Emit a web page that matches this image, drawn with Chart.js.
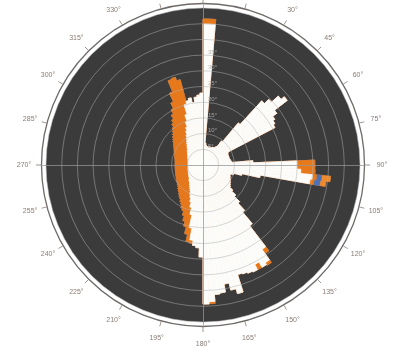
<!DOCTYPE html>
<html><head><meta charset="utf-8">
<script src="https://cdn.jsdelivr.net/npm/chart.js@4.4.0/dist/chart.umd.min.js"></script>
<style>html,body{margin:0;padding:0;background:#fff;}#wrap{width:397px;height:347px;position:relative;}</style>
</head><body><div id="wrap"><canvas id="c"></canvas></div>
<script>
// 2.5-degree direction bins (bin start, degrees clockwise from north)
const binStarts = [0,2.5,5,7.5,10,12.5,15,17.5,20,22.5,25,27.5,30,32.5,35,37.5,40,42.5,45,47.5,50,52.5,55,57.5,60,62.5,65,67.5,70,72.5,75,77.5,80,82.5,85,87.5,90,92.5,95,97.5,100,102.5,105,107.5,110,112.5,115,117.5,120,122.5,125,127.5,130,132.5,135,137.5,140,142.5,145,147.5,150,152.5,155,157.5,160,162.5,165,167.5,170,172.5,175,177.5,180,182.5,185,187.5,190,192.5,195,197.5,200,202.5,205,207.5,210,212.5,215,217.5,220,222.5,225,227.5,230,232.5,235,237.5,240,242.5,245,247.5,250,252.5,255,257.5,260,262.5,265,267.5,270,272.5,275,277.5,280,282.5,285,287.5,290,292.5,295,297.5,300,302.5,305,307.5,310,312.5,315,317.5,320,322.5,325,327.5,330,332.5,335,337.5,340,342.5,345,347.5,350,352.5,355,357.5];

const whiteSeries = [
44.9,44.9,7.0,6.4,6.1,5.9,5.9,6.1,6.1,6.1,
6.2,6.4,6.4,6.7,7.3,9.6,17.5,27.7,29.6,32.5,
33.8,28.7,27.1,26.4,25.8,8.9,8.6,8.6,8.6,8.6,
8.6,8.8,8.9,9.2,15.9,29.9,29.9,31.2,35.0,34.4,
18.5,12.7,10.2,9.2,9.2,9.4,9.6,9.9,10.1,10.4,
10.7,11.1,12.4,14.2,16.5,19.6,24.4,32.8,36.9,37.6,
35.7,37.6,37.3,36.9,36.6,42.4,40.8,38.5,41.1,41.4,
43.6,44.3,29.3,26.4,25.8,24.2,20.4,16.2,14.0,12.4,
11.1,10.2,9.2,8.6,8.1,7.6,7.2,6.8,6.7,6.4,
6.1,5.9,5.8,5.6,5.5,5.4,5.3,5.2,5.1,5.1,
5.0,5.0,4.9,4.9,4.8,4.8,4.8,4.8,4.8,4.8,
4.8,4.8,4.9,4.9,5.0,5.0,5.1,5.3,5.4,5.5,
5.7,5.9,6.1,6.3,6.6,6.9,7.2,7.6,8.1,8.7,
9.3,10.1,10.9,12.0,13.1,14.8,16.9,20.1,21.0,21.7,
20.1,21.7,22.3,22.9];

const orangeSeries = [
1.6,1.6,0,0,0,0,0,0,0,0,
0,0,0,0,0,0,0,0,0,0,
0,0,0,0,0,0,0,0,0,0,
0,0,0,0,0,5.7,5.7,4.5,1.3,1.3,
0,0,0,0,0,0,0,0,0,0,
0,0,0,0,0,0,0,1.6,1.0,0,
1.9,0,0,0,0,0,0,0,0,0,
0.6,0,0,0,0,1.0,4.5,6.4,6.4,6.4,
6.1,5.7,6.1,5.7,5.6,5.4,5.4,5.3,4.9,4.9,
4.9,4.6,4.5,4.4,4.4,4.3,4.3,4.2,4.2,4.2,
4.1,4.1,4.1,4.1,4.1,4.1,4.1,4.1,4.1,4.1,
4.1,4.2,4.2,4.3,4.4,4.5,4.6,4.6,4.8,5.0,
5.1,5.3,5.5,5.8,6.0,6.3,6.6,6.9,7.2,7.6,
8.1,8.7,9.4,10.2,12.1,14.2,12.4,8.0,0,0,
0,0,0,0];

const blueSeries = [
0,0,0,0,0,0,0,0,0,0, 0,0,0,0,0,0,0,0,0,0, 0,0,0,0,0,0,0,0,0,0,
0,0,0,0,0,0,0,0,1.6,1.9,
0,0,0,0,0,0,0,0,0,0, 0,0,0,0,0,0,0,0,0,0, 0,0,0,0,0,0,0,0,0,0,
0,0,0,0,0,0,0,0,0,0, 0,0,0,0,0,0,0,0,0,0, 0,0,0,0,0,0,0,0,0,0,
0,0,0,0,0,0,0,0,0,0, 0,0,0,0,0,0,0,0,0,0, 0,0,0,0,0,0,0,0,0,0,
0,0,0,0,0,0,0,0,0,0, 0,0,0,0];

const tipSeries = [
0,0,0,0,0,0,0,0,0,0, 0,0,0,0,0,0,0,0,0,0, 0,0,0,0,0,0,0,0,0,0,
0,0,0,0,0,0,0,0,2.9,1.9,
0,0,0,0,0,0,0,0,0,0, 0,0,0,0,0,0,0,0,0,0, 0,0,0,0,0,0,0,0,0,0,
0,0,0,0,0,0,0,0,0,0, 0,0,0,0,0,0,0,0,0,0, 0,0,0,0,0,0,0,0,0,0,
0,0,0,0,0,0,0,0,0,0, 0,0,0,0,0,0,0,0,0,0, 0,0,0,0,0,0,0,0,0,0,
0,0,0,0,0,0,0,0,0,0, 0,0,0,0];

const angleTicks = [0,15,30,45,60,75,90,105,120,135,150,165,180,195,210,225,240,255,270,285,300,315,330,345];
const angleTickLabels = ['0°','15°','30°','45°','60°','75°','90°','105°','120°','135°','150°','165°','180°','195°','210°','225°','240°','255°','270°','285°','300°','315°','330°','345°'];
const radialMax = 50;
const radialStep = 5;

// cumulative stacks (drawn back to front)
const stack1 = whiteSeries.map((v, i) => v + orangeSeries[i]);
const stack2 = stack1.map((v, i) => v + blueSeries[i]);
const stack3 = stack2.map((v, i) => v + tipSeries[i]);

const deco = {
  id: 'deco',
  beforeDraw(chart) {
    const s = chart.scales.r, ctx = chart.ctx;
    const cx = s.xCenter, cy = s.yCenter, R = s.drawingArea;
    ctx.save();
    ctx.fillStyle = '#ffffff';
    ctx.fillRect(0, 0, chart.width, chart.height);
    ctx.beginPath(); ctx.arc(cx, cy, R + 4.5, 0, Math.PI * 2);
    ctx.strokeStyle = '#6e6a68'; ctx.lineWidth = 1.3; ctx.stroke();
    ctx.beginPath(); ctx.arc(cx, cy, R, 0, Math.PI * 2);
    ctx.fillStyle = '#3b3b3b'; ctx.fill();
    ctx.strokeStyle = '#8a7c74'; ctx.lineWidth = 0.8;
    ctx.fillStyle = '#8a7c74';
    ctx.font = '7px "Liberation Sans", Arial, sans-serif';
    ctx.textAlign = 'center'; ctx.textBaseline = 'middle';
    angleTicks.forEach((a, i) => {
      const t = a * Math.PI / 180, sx = Math.sin(t), sy = -Math.cos(t);
      ctx.beginPath();
      ctx.moveTo(cx + sx * (R + 5), cy + sy * (R + 5));
      ctx.lineTo(cx + sx * (R + 10), cy + sy * (R + 10));
      ctx.stroke();
      ctx.fillText(angleTickLabels[i], cx + sx * (R + 22), cy + sy * (R + 22));
    });
    ctx.restore();
  },
  afterDraw(chart) {
    const s = chart.scales.r, ctx = chart.ctx;
    const cx = s.xCenter, cy = s.yCenter, R = s.drawingArea;
    ctx.save();
    ctx.strokeStyle = 'rgba(150,150,150,0.75)'; ctx.lineWidth = 1;
    ctx.beginPath();
    ctx.moveTo(cx - R - 5, cy + 0.5); ctx.lineTo(cx + R + 5, cy + 0.5);
    ctx.moveTo(cx + 0.5, cy - R - 5); ctx.lineTo(cx + 0.5, cy + R + 5);
    ctx.stroke();
    ctx.fillStyle = 'rgba(175,175,175,0.9)';
    ctx.font = '6px "Liberation Sans", Arial, sans-serif';
    ctx.textAlign = 'left'; ctx.textBaseline = 'middle';
    s.ticks.forEach(t => {
      if (t.value <= 0 || t.value > 35) return;
      const d = s.getDistanceFromCenterForValue(t.value);
      ctx.fillText(t.value + '°', cx + 5, cy - d - 3);
    });
    ctx.restore();
  }
};

const arcStyle = (color) => ({ backgroundColor: color, borderColor: color, borderWidth: 0.8 });

new Chart(document.getElementById('c'), {
  type: 'polarArea',
  data: {
    labels: binStarts.map(b => b + '°'),
    datasets: [
      Object.assign({ label: 'white', data: whiteSeries }, arcStyle('#fcfcfa')),
      Object.assign({ label: 'orange', data: stack1 }, arcStyle('#e8791a')),
      Object.assign({ label: 'blue', data: stack2 }, arcStyle('#4a72b8')),
      Object.assign({ label: 'tip', data: stack3 }, arcStyle('#ee8a2e'))
    ]
  },
  options: {
    responsive: true,
    maintainAspectRatio: false,
    animation: false,
    layout: { padding: { left: 46, right: 37, top: 8, bottom: 25 } },
    plugins: { legend: { display: false }, tooltip: { enabled: false } },
    scales: {
      r: {
        min: 0, max: radialMax, startAngle: 0,
        ticks: { display: false, stepSize: radialStep },
        grid: { z: 1, circular: true, color: 'rgba(175,175,175,0.5)', lineWidth: 1 },
        angleLines: { display: false },
        pointLabels: { display: false }
      }
    }
  },
  plugins: [deco]
});
</script>
</body></html>
